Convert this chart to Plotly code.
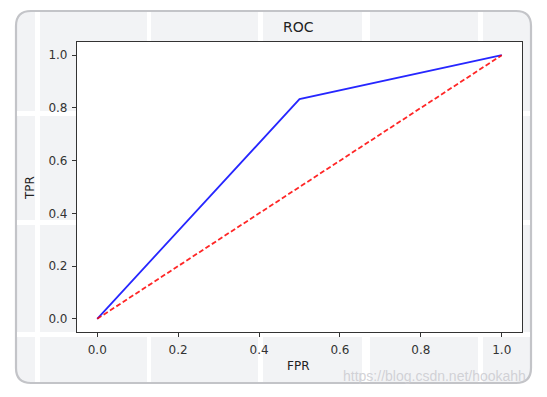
import plotly.graph_objects as go

# ROC data
fpr = [0.0, 0.5, 1.0]
tpr = [0.0, 0.8333, 1.0]
diag_x = [0.0, 1.0]
diag_y = [0.0, 1.0]
tick_vals = [0.0, 0.2, 0.4, 0.6, 0.8, 1.0]
tick_text = ["0.0", "0.2", "0.4", "0.6", "0.8", "1.0"]

W, H = 547, 397
L, R, T, B = 77, 522, 42, 332  # plot area in pixels


def px(x):
    return (x - L) / (R - L)


def py(y):
    return (B - y) / (B - T)


fig = go.Figure()
fig.add_trace(go.Scatter(x=fpr, y=tpr, mode="lines",
                         line=dict(color="rgba(0,0,255,0.85)", width=1.8),
                         showlegend=False, hoverinfo="skip"))
fig.add_trace(go.Scatter(x=diag_x, y=diag_y, mode="lines",
                         line=dict(color="rgba(255,0,0,0.85)", width=1.8, dash="5px,2.6px"),
                         showlegend=False, hoverinfo="skip"))

shapes = []
# rounded gray panel
x0, x1, y0, y1, r = 16, 531, 11, 383, 15
path = (f"M {px(x0+r)},{py(y0)} L {px(x1-r)},{py(y0)} "
        f"Q {px(x1)},{py(y0)} {px(x1)},{py(y0+r)} "
        f"L {px(x1)},{py(y1-r)} Q {px(x1)},{py(y1)} {px(x1-r)},{py(y1)} "
        f"L {px(x0+r)},{py(y1)} Q {px(x0)},{py(y1)} {px(x0)},{py(y1-r)} "
        f"L {px(x0)},{py(y0+r)} Q {px(x0)},{py(y0)} {px(x0+r)},{py(y0)} Z")
shapes.append(dict(type="path", xref="paper", yref="paper", path=path,
                   fillcolor="#f2f3f5", line=dict(color="#c3c4c8", width=2.2),
                   layer="below"))
# white stripes (vertical)
for a, b in [(35, 40), (147, 151), (258, 263), (362, 370), (478, 483)]:
    shapes.append(dict(type="rect", xref="paper", yref="paper",
                       x0=px(a), x1=px(b), y0=py(12), y1=py(382),
                       fillcolor="white", line=dict(width=0), layer="below"))
# white stripes (horizontal)
for a, b in [(111, 116), (220, 225), (332, 337)]:
    shapes.append(dict(type="rect", xref="paper", yref="paper",
                       x0=px(17), x1=px(530), y0=py(a), y1=py(b),
                       fillcolor="white", line=dict(width=0), layer="below"))
# white plot area
shapes.append(dict(type="rect", xref="paper", yref="paper", x0=0, x1=1, y0=0, y1=1,
                   fillcolor="white", line=dict(width=0), layer="below"))

axis_common = dict(range=[-0.05, 1.05], tickvals=tick_vals, ticktext=tick_text,
                   showgrid=False, zeroline=False, showline=True, mirror=True,
                   linecolor="#333333", linewidth=1.2, ticks="outside", ticklen=4,
                   tickwidth=1, tickcolor="#333333",
                   tickfont=dict(family="DejaVu Sans", size=12, color="#333333"))

fig.update_layout(
    width=W, height=H,
    margin=dict(l=L, r=W - R, t=T, b=H - B, pad=0),
    paper_bgcolor="white", plot_bgcolor="white",
    shapes=shapes,
    xaxis=dict(**axis_common, ticklabelstandoff=2),
    yaxis=dict(**axis_common, ticklabelstandoff=2),
    annotations=[
        dict(text="ROC", xref="paper", yref="paper", x=px(298.5), y=py(27.5),
             xanchor="center", yanchor="middle", showarrow=False,
             font=dict(family="DejaVu Sans", size=14, color="#222222")),
        dict(text="FPR", xref="paper", yref="paper", x=px(298), y=py(366),
             xanchor="center", yanchor="middle", showarrow=False,
             font=dict(family="DejaVu Sans", size=12, color="#222222")),
        dict(text="TPR", xref="paper", yref="paper", x=px(30), y=py(188),
             xanchor="center", yanchor="middle", showarrow=False, textangle=-90,
             font=dict(family="DejaVu Sans", size=12, color="#222222")),
        dict(text="https://blog.csdn.net/hookahh", xref="paper", yref="paper",
             x=px(434), y=py(376), xanchor="center", yanchor="middle", showarrow=False,
             font=dict(family="Liberation Sans", size=14, color="rgba(205,205,210,0.9)")),
    ],
)

fig.write_html("out.html", config={"displayModeBar": False},
               post_script="document.body.style.margin='0';")
